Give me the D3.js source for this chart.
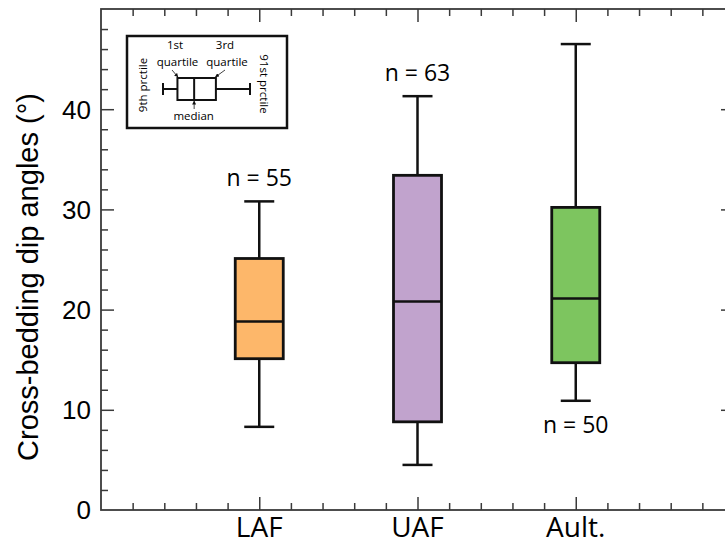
<!DOCTYPE html>
<html>
<head>
<meta charset="utf-8">
<script src="https://cdn.jsdelivr.net/npm/d3@7"></script>
<style>
  body { margin: 0; background: #fff; }
  svg { display: block; }
</style>
</head>
<body>
<svg id="chart"></svg>
<script>
const categories = ['LAF', 'UAF', 'Ault.'];
const p9 = [8.3, 4.5, 10.9];
const q1 = [15.1, 8.8, 14.7];
const median = [18.8, 20.8, 21.1];
const q3 = [25.1, 33.4, 30.2];
const p91 = [30.8, 41.3, 46.5];
const counts = [55, 63, 50];
const countSide = ['above', 'above', 'below'];
const colors = ['#fdb76a', '#c1a3cd', '#7dc55f'];
const yTickLabels = [0, 10, 20, 30, 40];

const width = 725;
const height = 544;

const svg = d3.select('#chart')
.attr('width', width)
.attr('height', height);

const x = d3.scaleLinear()
.domain([0, 4])
.range([101, 734]);

const y = d3.scaleLinear()
.domain([0, 50])
.range([510, 9]);

const minorX = d3.range(0, 4.001, 0.2).filter(d => Math.abs(d - Math.round(d)) > 0.01);
const majorX = [1, 2, 3];
const minorY = d3.range(0, 50.001, 2).filter(d => d % 10 !== 0);
const majorY = [10, 20, 30, 40];

const axisColor = '#3a3a3a';

function tickAxis(axisFn, scale, values, size, transform) {
  const g = svg.append('g')
  .attr('transform', transform)
  .call(axisFn(scale).tickValues(values).tickSize(-size).tickSizeOuter(0).tickFormat(''));
  g.select('.domain').remove();
  g.selectAll('line').attr('stroke', axisColor).attr('stroke-width', 1.5);
}

// ticks on all four sides, pointing inward
tickAxis(d3.axisBottom, x, minorX, 7, `translate(0, ${y(0)})`);
tickAxis(d3.axisBottom, x, majorX, 13, `translate(0, ${y(0)})`);
tickAxis(d3.axisTop, x, minorX, 7, `translate(0, ${y(50)})`);
tickAxis(d3.axisTop, x, majorX, 13, `translate(0, ${y(50)})`);
tickAxis(d3.axisLeft, y, minorY, 7, `translate(${x(0)}, 0)`);
tickAxis(d3.axisLeft, y, majorY, 13, `translate(${x(0)}, 0)`);
tickAxis(d3.axisRight, y, minorY, 7, `translate(${x(4)}, 0)`);
tickAxis(d3.axisRight, y, majorY, 13, `translate(${x(4)}, 0)`);

// frame
svg.append('rect')
.attr('x', x(0))
.attr('y', y(50))
.attr('width', x(4) - x(0))
.attr('height', y(0) - y(50))
.attr('fill', 'none')
.attr('stroke', axisColor)
.attr('stroke-width', 1.8);

// y tick labels
svg.selectAll('.ylab')
.data(yTickLabels)
.enter()
.append('text')
.attr('class', 'ylab')
.attr('x', x(0) - 10)
.attr('y', d => y(d))
.attr('dy', '0.36em')
.attr('text-anchor', 'end')
.style('font-family', 'Liberation Sans, Arial, sans-serif')
.style('font-size', '26px')
.text(d => d);

// category labels
svg.selectAll('.xlab')
.data(categories)
.enter()
.append('text')
.attr('class', 'xlab')
.attr('x', (d, i) => x(i + 1))
.attr('y', 537)
.attr('text-anchor', 'middle')
.style('font-family', 'Open Sans, sans-serif')
.style('font-size', '28px')
.text(d => d);

svg.append('text')
.attr('transform', 'translate(38, 277) rotate(-90)')
.attr('text-anchor', 'middle')
.style('font-family', 'Liberation Sans, Arial, sans-serif')
.style('font-size', '29px')
.text('Cross-bedding dip angles (°)');

// boxes
const boxW = 48;
const capW = 30;
const boxes = svg.selectAll('.box')
.data(categories)
.enter()
.append('g')
.attr('class', 'box');

boxes.append('line')
.attr('x1', (d, i) => x(i + 1))
.attr('x2', (d, i) => x(i + 1))
.attr('y1', (d, i) => y(p9[i]))
.attr('y2', (d, i) => y(p91[i]))
.attr('stroke', '#111')
.attr('stroke-width', 2.5);

boxes.append('line')
.attr('x1', (d, i) => x(i + 1) - capW / 2)
.attr('x2', (d, i) => x(i + 1) + capW / 2)
.attr('y1', (d, i) => y(p9[i]))
.attr('y2', (d, i) => y(p9[i]))
.attr('stroke', '#111')
.attr('stroke-width', 2.5);

boxes.append('line')
.attr('x1', (d, i) => x(i + 1) - capW / 2)
.attr('x2', (d, i) => x(i + 1) + capW / 2)
.attr('y1', (d, i) => y(p91[i]))
.attr('y2', (d, i) => y(p91[i]))
.attr('stroke', '#111')
.attr('stroke-width', 2.5);

boxes.append('rect')
.attr('x', (d, i) => x(i + 1) - boxW / 2)
.attr('y', (d, i) => y(q3[i]))
.attr('width', boxW)
.attr('height', (d, i) => y(q1[i]) - y(q3[i]))
.attr('fill', (d, i) => colors[i])
.attr('stroke', '#111')
.attr('stroke-width', 2.8);

boxes.append('line')
.attr('x1', (d, i) => x(i + 1) - boxW / 2)
.attr('x2', (d, i) => x(i + 1) + boxW / 2)
.attr('y1', (d, i) => y(median[i]))
.attr('y2', (d, i) => y(median[i]))
.attr('stroke', '#111')
.attr('stroke-width', 2.5);

boxes.append('text')
.attr('x', (d, i) => x(i + 1))
.attr('y', (d, i) => countSide[i] === 'above' ? y(p91[i]) - 15 : y(p9[i]) + 32)
.attr('text-anchor', 'middle')
.style('font-family', 'Open Sans, sans-serif')
.style('font-size', '23px')
.text((d, i) => 'n = ' + counts[i]);

// legend inset
const legendSample = [0, 0.166, 0.358, 0.608, 1];
const lx = d3.scaleLinear().domain([0, 1]).range([163, 250]);
const ly = 89;
const legend = svg.append('g');

legend.append('rect')
.attr('x', 127)
.attr('y', 36)
.attr('width', 160)
.attr('height', 92)
.attr('fill', '#fff')
.attr('stroke', '#111')
.attr('stroke-width', 2.5);

legend.append('line')
.attr('x1', lx(legendSample[0])).attr('x2', lx(legendSample[4]))
.attr('y1', ly).attr('y2', ly)
.attr('stroke', '#111').attr('stroke-width', 2);

[legendSample[0], legendSample[4]].forEach(v => {
  legend.append('line')
  .attr('x1', lx(v)).attr('x2', lx(v))
  .attr('y1', ly - 6).attr('y2', ly + 6)
  .attr('stroke', '#111').attr('stroke-width', 2);
});

legend.append('rect')
.attr('x', lx(legendSample[1]))
.attr('y', ly - 11)
.attr('width', lx(legendSample[3]) - lx(legendSample[1]))
.attr('height', 22)
.attr('fill', '#fff')
.attr('stroke', '#111')
.attr('stroke-width', 2);

legend.append('line')
.attr('x1', lx(legendSample[2])).attr('x2', lx(legendSample[2]))
.attr('y1', ly - 11).attr('y2', ly + 11)
.attr('stroke', '#111').attr('stroke-width', 2);

svg.append('defs')
.append('marker')
.attr('id', 'arrow')
.attr('viewBox', '0 0 10 10')
.attr('refX', 9)
.attr('refY', 5)
.attr('markerWidth', 5)
.attr('markerHeight', 5)
.attr('orient', 'auto')
.append('path')
.attr('d', 'M0,0 L10,5 L0,10 z')
.attr('fill', '#111');

const arrows = [
  [172, 70, lx(legendSample[1]) + 0.5, ly - 12],
  [225, 70, lx(legendSample[3]) - 0.5, ly - 12],
  [lx(legendSample[2]), 109, lx(legendSample[2]), ly + 12]
];
arrows.forEach(a => {
  legend.append('line')
  .attr('x1', a[0]).attr('y1', a[1])
  .attr('x2', a[2]).attr('y2', a[3])
  .attr('stroke', '#111')
  .attr('stroke-width', 0.8)
  .attr('marker-end', 'url(#arrow)');
});

// two-line labels, spaced so the lines do not collide
const legendFont = 'Open Sans, sans-serif';
const legendTexts = [
  ['1st', 175, 49],
  ['quartile', 177.5, 66],
  ['3rd', 225, 49],
  ['quartile', 227, 66],
  ['median', 193.7, 120]
];
legendTexts.forEach(t => {
  legend.append('text')
  .attr('x', t[1])
  .attr('y', t[2])
  .attr('text-anchor', 'middle')
  .style('font-family', legendFont)
  .style('font-size', '11.5px')
  .text(t[0]);
});

legend.append('text')
.attr('transform', 'translate(147, 85) rotate(-90)')
.attr('text-anchor', 'middle')
.style('font-family', legendFont)
.style('font-size', '11.5px')
.text('9th prctile');

legend.append('text')
.attr('transform', 'translate(260, 84) rotate(90)')
.attr('text-anchor', 'middle')
.style('font-family', legendFont)
.style('font-size', '11.5px')
.text('91st prctile');
</script>
</body>
</html>
